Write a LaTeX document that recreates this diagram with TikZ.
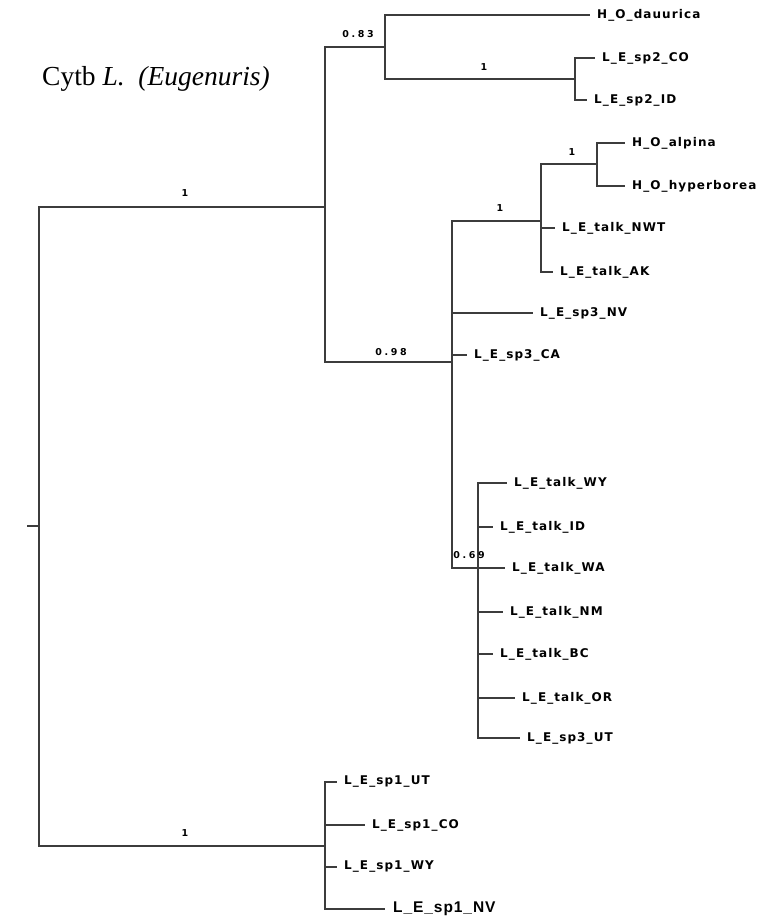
\documentclass[tikz,border=0pt]{standalone}
\usepackage{fontspec}
\setmainfont{Liberation Serif}
\newfontfamily\lblfont[LetterSpace=9]{DejaVu Sans Bold}
\newfontfamily\supfont[LetterSpace=28]{DejaVu Sans Bold}
\newfontfamily\nvfont[LetterSpace=6]{Liberation Sans Bold}
\definecolor{branchcol}{RGB}{60,60,60}
\tikzset{
  branch/.style={draw=branchcol, line width=1.4pt},
  leaf/.style={anchor=west, inner xsep=7pt, inner ysep=0pt, text=black,
    font=\lblfont\fontsize{12}{14}\selectfont},
  leafnv/.style={anchor=west, inner xsep=8pt, inner ysep=0pt, text=black,
    font=\nvfont\fontsize{15.5}{17}\selectfont},
  bslabel/.style={inner sep=0pt, text=black,
    font=\supfont\fontsize{9.5}{11}\selectfont},
}
\begin{document}
\begin{tikzpicture}[x=1pt,y=-1pt]
\useasboundingbox (0,0) rectangle (764,920);
% title
\node[anchor=base west, inner sep=0pt, font=\fontsize{27.5}{32}\selectfont] (title) at (42,86) {Cytb \textit{L.\ \ (Eugenuris)}};
% internal nodes
\coordinate (Rs) at (27,526);
\coordinate (R) at (39,526);
\coordinate (A) at (325,207);
\coordinate (B) at (385,47);
\coordinate (C) at (575,79);
\coordinate (D) at (452,362);
\coordinate (E) at (541,221);
\coordinate (F) at (597,164);
\coordinate (G) at (478,568);
\coordinate (H) at (325,846);
% leaves
\node[leaf] (dau) at (590,15) {H\_O\_dauurica};
\node[leaf] (s2co) at (595,58) {L\_E\_sp2\_CO};
\node[leaf] (s2id) at (587,100) {L\_E\_sp2\_ID};
\node[leaf] (alp) at (625,143) {H\_O\_alpina};
\node[leaf] (hyp) at (625,186) {H\_O\_hyperborea};
\node[leaf] (nwt) at (555,228) {L\_E\_talk\_NWT};
\node[leaf] (ak) at (553,272) {L\_E\_talk\_AK};
\node[leaf] (s3nv) at (533,313) {L\_E\_sp3\_NV};
\node[leaf] (s3ca) at (467,355) {L\_E\_sp3\_CA};
\node[leaf] (twy) at (507,483) {L\_E\_talk\_WY};
\node[leaf] (tid) at (493,527) {L\_E\_talk\_ID};
\node[leaf] (twa) at (505,568) {L\_E\_talk\_WA};
\node[leaf] (tnm) at (503,612) {L\_E\_talk\_NM};
\node[leaf] (tbc) at (493,654) {L\_E\_talk\_BC};
\node[leaf] (tor) at (515,698) {L\_E\_talk\_OR};
\node[leaf] (s3ut) at (520,738) {L\_E\_sp3\_UT};
\node[leaf] (s1ut) at (337,782) {L\_E\_sp1\_UT};
\node[leaf] (s1co) at (365,825) {L\_E\_sp1\_CO};
\node[leaf] (s1wy) at (337,867) {L\_E\_sp1\_WY};
\node[leafnv] (s1nv) at (385,909) {L\_E\_sp1\_NV};
% branches
\draw[branch] (Rs) -- (R);
\draw[branch] (R) |- (A);
\draw[branch] (R) |- (H);
\draw[branch] (A) |- (B);
\draw[branch] (A) |- (D);
\draw[branch] (B) |- (dau.west);
\draw[branch] (B) |- (C);
\draw[branch] (C) |- (s2co.west);
\draw[branch] (C) |- (s2id.west);
\draw[branch] (D) |- (E);
\draw[branch] (D) |- (s3nv.west);
\draw[branch] (D) |- (s3ca.west);
\draw[branch] (D) |- (G);
\draw[branch] (E) |- (F);
\draw[branch] (E) |- (nwt.west);
\draw[branch] (E) |- (ak.west);
\draw[branch] (F) |- (alp.west);
\draw[branch] (F) |- (hyp.west);
\draw[branch] (G) |- (twy.west);
\draw[branch] (G) |- (tid.west);
\draw[branch] (G) -- (twa.west);
\draw[branch] (G) |- (tnm.west);
\draw[branch] (G) |- (tbc.west);
\draw[branch] (G) |- (tor.west);
\draw[branch] (G) |- (s3ut.west);
\draw[branch] (H) |- (s1ut.west);
\draw[branch] (H) |- (s1co.west);
\draw[branch] (H) |- (s1wy.west);
\draw[branch] (H) |- (s1nv.west);
% support values
\node[bslabel] (l083) at (358,34) {0.83};
\node[bslabel] (l1a) at (484,67) {1};
\node[bslabel] (l1b) at (185,193) {1};
\node[bslabel] (l098) at (391,352) {0.98};
\node[bslabel] (l1c) at (500,208) {1};
\node[bslabel] (l1d) at (572,152) {1};
\node[bslabel] (l069) at (469,555) {0.69};
\node[bslabel] (l1e) at (185,833) {1};
\end{tikzpicture}
\end{document}
